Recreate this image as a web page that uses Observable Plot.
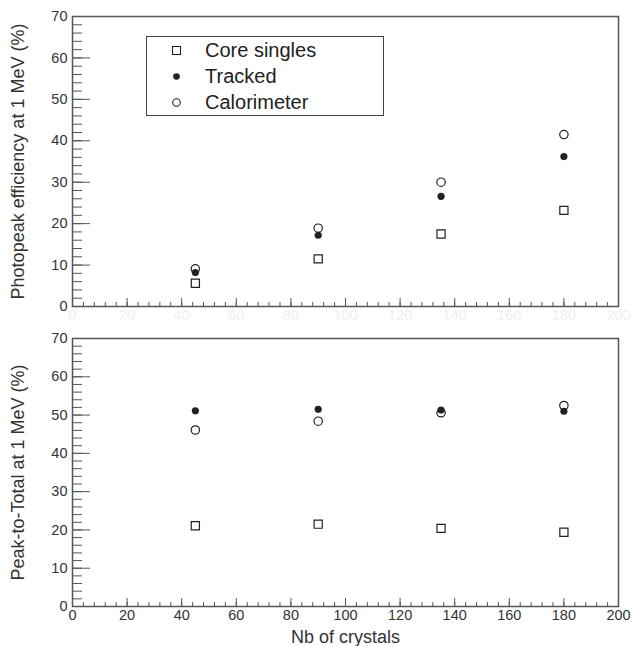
<!DOCTYPE html>
<html>
<head>
<meta charset="utf-8">
<script src="https://cdn.jsdelivr.net/npm/d3@7"></script>
<script src="https://cdn.jsdelivr.net/npm/@observablehq/plot@0.6"></script>
<style>
  html, body { margin: 0; padding: 0; background: #fff; }
  #wrap { position: relative; width: 631px; height: 646px; font-family: "Liberation Sans", Arial, Helvetica, sans-serif; }
  #wrap svg { display: block; }
  #wrap g[aria-label="y-axis tick label"], #wrap g[aria-label="x-axis tick label"] { font-size: 14.5px !important; }
  #wrap g[aria-label="y-axis label"], #wrap g[aria-label="x-axis label"] { font-size: 18px !important; }
  #legend { position: absolute; left: 146px; top: 36px; width: 236px; height: 78px; border: 1.5px solid #444; background: #fff; }
  #legend .row { position: absolute; left: 0; height: 24px; display: flex; align-items: center; font-size: 20px; color: #222; }
  #legend .row svg { margin-left: 23px; margin-right: 22px; }
</style>
</head>
<body>
<div id="wrap"></div>
<script>
// ---- data ----
const seriesNames = ["Core singles", "Tracked", "Calorimeter"];
const nbCrystals = [45, 90, 135, 180];

// top panel: photopeak efficiency (%)
const effCore    = [5.6, 11.5, 17.5, 23.2];
const effTracked = [8.2, 17.2, 26.6, 36.2];
const effCalo    = [9.1, 18.9, 30.0, 41.5];

// bottom panel: peak-to-total (%)
const ptCore    = [21.1, 21.5, 20.4, 19.4];
const ptTracked = [51.1, 51.5, 51.3, 51.0];
const ptCalo    = [46.1, 48.4, 50.6, 52.5];

// axis ticks
const xMajor = [0, 20, 40, 60, 80, 100, 120, 140, 160, 180, 200];
const xMinor = d3.range(0, 201, 4);
const yMajor = [0, 10, 20, 30, 40, 50, 60, 70];
const yMinor = d3.range(0, 71, 2);

const xTitle = "Nb of crystals";
const yTitleTop = "Photopeak efficiency at 1 MeV (%)";
const yTitleBottom = "Peak-to-Total at 1 MeV (%)";

function rows(core, tracked, calo) {
  return nbCrystals.map((x, i) => ({x, core: core[i], tracked: tracked[i], calo: calo[i]}));
}

const ink = "#222";
const axisColor = "#555";

function panel({data, height, marginTop, marginBottom, yTitle, xLabels}) {
  return Plot.plot({
    width: 631,
    height,
    marginLeft: 72,
    marginRight: 13,
    marginTop,
    marginBottom,
    style: {fontFamily: '"Liberation Sans", Arial, Helvetica, sans-serif', fontSize: "14px", color: ink, background: "#fff"},
    x: {domain: [0, 200]},
    y: {domain: [0, 70]},
    marks: [
      Plot.frame({stroke: axisColor, strokeWidth: 1.5}),
      // minor + major ticks drawn inward
      Plot.axisY(yMinor, {anchor: "left", tickSize: -10, tickFormat: () => "", label: null, stroke: axisColor}),
      Plot.axisY(yMajor, {anchor: "left", tickSize: -18, tickFormat: () => "", label: null, stroke: axisColor}),
      Plot.axisX(xMinor, {anchor: "bottom", tickSize: -4, tickFormat: () => "", label: null, stroke: axisColor}),
      Plot.axisX(xMajor, {anchor: "bottom", tickSize: -8, tickFormat: () => "", label: null, stroke: axisColor}),
      // tick labels
      Plot.axisY(yMajor, {anchor: "left", tickSize: 0, tickPadding: 5, fontSize: 14, fill: "#333",
        label: yTitle, labelAnchor: "center", labelArrow: "none", labelOffset: 61}),
      Plot.axisX(xMajor, {anchor: "bottom", tickSize: 0, tickPadding: 3, fontSize: 14,
        fill: xLabels ? "#333" : "#f0f0f0",
        label: xLabels ? xTitle : null, labelAnchor: "center", labelArrow: "none", labelOffset: 36}),
      Plot.dot(data, {x: "x", y: "core", symbol: "square", r: 4.6, stroke: ink, strokeWidth: 1.2, fill: "none"}),
      Plot.dot(data, {x: "x", y: "calo", symbol: "circle", r: 4.2, stroke: ink, strokeWidth: 1.2, fill: "none"}),
      Plot.dot(data, {x: "x", y: "tracked", symbol: "circle", r: 3.6, fill: ink, stroke: "none"})
    ]
  });
}

const wrap = document.getElementById("wrap");
const topPanel = panel({data: rows(effCore, effTracked, effCalo), height: 322, marginTop: 16, marginBottom: 16, yTitle: yTitleTop, xLabels: false});
const bottomPanel = panel({data: rows(ptCore, ptTracked, ptCalo), height: 324, marginTop: 16, marginBottom: 40, yTitle: yTitleBottom, xLabels: true});
wrap.appendChild(topPanel);
wrap.appendChild(bottomPanel);

// legend
const legend = document.createElement("div");
legend.id = "legend";
const symbols = [
  '<rect x="2.5" y="2.5" width="8" height="8" fill="none" stroke="#222" stroke-width="1.1"/>',
  '<circle cx="6.5" cy="6.5" r="3.3" fill="#222"/>',
  '<circle cx="6.5" cy="6.5" r="3.8" fill="none" stroke="#222" stroke-width="1.1"/>'
];
const rowTops = [1, 27, 53];
seriesNames.forEach((name, i) => {
  const r = document.createElement("div");
  r.className = "row";
  r.style.top = rowTops[i] + "px";
  r.innerHTML = `<svg width="13" height="13">${symbols[i]}</svg><span>${name}</span>`;
  legend.appendChild(r);
});
wrap.appendChild(legend);
</script>
</body>
</html>
